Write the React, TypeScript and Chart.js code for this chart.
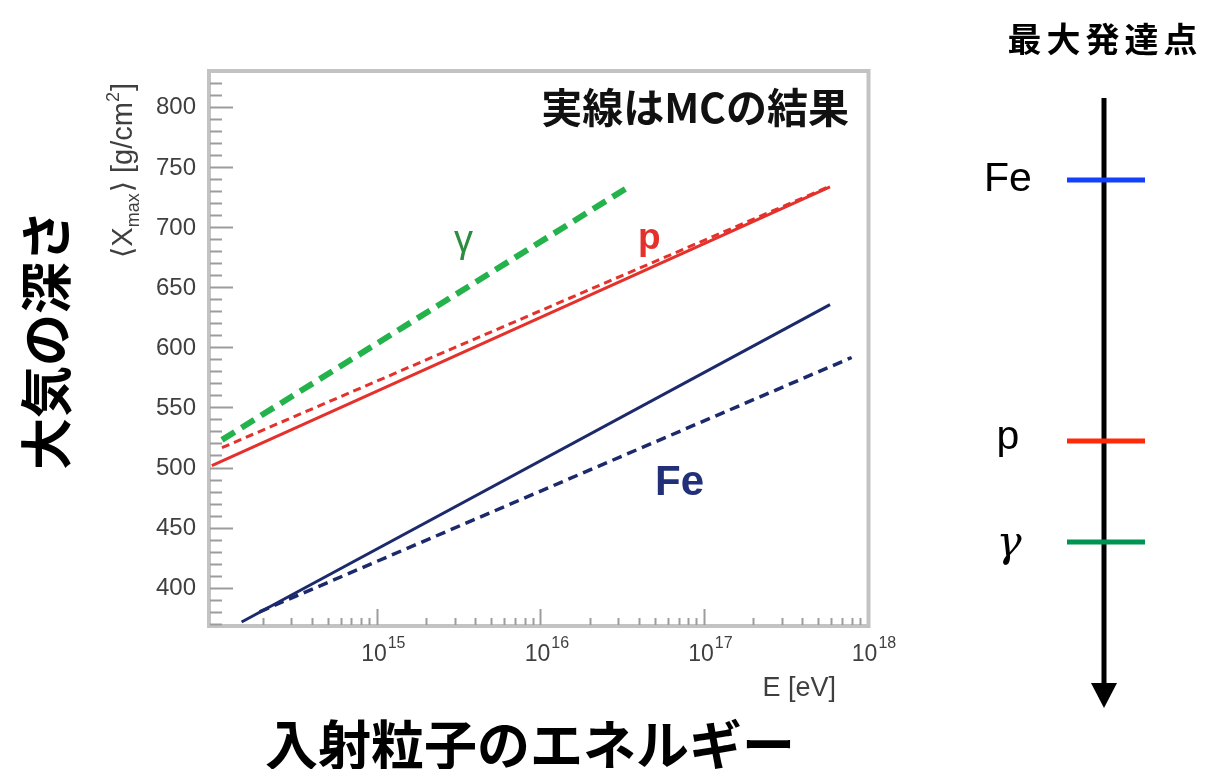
import { useEffect, useRef } from "react";
import { Chart, registerables } from "chart.js";

Chart.register(...registerables);

const CANVAS_W = 1206;
const CANVAS_H = 769;

// Axis ranges: primary energy (eV, log scale) and depth of shower maximum (g/cm²)
const energyMin = 9.55e13;
const energyMax = 1e18;
const depthMin = 369;
const depthMax = 829;

// Tick labels
const energyExponents = [15, 16, 17, 18];
const depthTickLabels = [400, 450, 500, 550, 600, 650, 700, 750, 800];

// Proton: MC result (solid) and model (dashed)
const protonMcEnergy = [9.8e13, 5.9e17];
const protonMcDepth = [501.5, 733.5];
const protonModelEnergy = [1.13e14, 5.9e17];
const protonModelDepth = [516.5, 734];

// Gamma: model (dashed)
const gammaModelEnergy = [1.13e14, 3.38e16];
const gammaModelDepth = [523, 732.5];

// Iron: MC result (solid) and model (dashed)
const ironMcEnergy = [1.49e14, 5.9e17];
const ironMcDepth = [371.5, 635.5];
const ironModelEnergy = [1.92e14, 8.0e17];
const ironModelDepth = [380, 591.5];

// Labels of the shower-maximum ladder on the right
const ladderLabels = ["Fe", "p", "γ"];

const RED = "#e5312b";
const GREEN = "#23b24c";
const NAVY = "#1c2a6c";

const points = (xs: number[], ys: number[]) => xs.map((x, i) => ({ x, y: ys[i] }));

const AXIS_FONT = '"Liberation Sans", Arial, "DejaVu Sans", sans-serif';
const JP_FONT = '"Noto Sans CJK JP", "Noto Sans", sans-serif';

const decorations = {
  id: "decorations",
  afterDatasetsDraw(chart: any) {
    const { ctx, chartArea: a, scales } = chart;
    const xs = scales.x;
    const ys = scales.y;
    ctx.save();

    // frame
    ctx.strokeStyle = "#c3c3c3";
    ctx.lineWidth = 4;
    ctx.strokeRect(a.left - 1, a.top - 1, a.right - a.left + 2, a.bottom - a.top + 2);

    // x ticks (inward, decade + minor)
    ctx.strokeStyle = "#9c9c9c";
    ctx.lineWidth = 2;
    for (let e = 13; e <= 17; e++) {
      for (let m = 1; m <= 9; m++) {
        const v = m * Math.pow(10, e);
        if (v < energyMin || v > energyMax * 1.0001) continue;
        const px = Math.round(xs.getPixelForValue(v)) + 0.5;
        if (px < a.left + 6 || px > a.right - 2) continue;
        const len = m === 1 ? 16 : 7;
        ctx.beginPath();
        ctx.moveTo(px, a.bottom);
        ctx.lineTo(px, a.bottom - len);
        ctx.stroke();
      }
    }
    // y ticks
    for (let d = 370; d <= depthMax; d += 10) {
      const py = Math.round(ys.getPixelForValue(d)) + 0.5;
      const len = d % 50 === 0 ? 23 : 12;
      ctx.beginPath();
      ctx.moveTo(a.left, py);
      ctx.lineTo(a.left + len, py);
      ctx.stroke();
    }

    // y tick labels
    ctx.fillStyle = "#3f3f3f";
    ctx.font = `24px ${AXIS_FONT}`;
    ctx.textAlign = "right";
    ctx.textBaseline = "middle";
    depthTickLabels.forEach((d) => {
      ctx.fillText(String(d), a.left - 14, ys.getPixelForValue(d) + 1);
    });

    // x tick labels 10^n
    ctx.textBaseline = "alphabetic";
    energyExponents.forEach((n) => {
      const px = xs.getPixelForValue(Math.pow(10, n));
      ctx.font = `23px ${AXIS_FONT}`;
      const baseW = ctx.measureText("10").width;
      ctx.font = `16px ${AXIS_FONT}`;
      const supW = ctx.measureText(String(n)).width;
      const start = px + 6 - (baseW + supW) / 2;
      ctx.textAlign = "left";
      ctx.font = `23px ${AXIS_FONT}`;
      ctx.fillText("10", start, a.bottom + 36);
      ctx.font = `16px ${AXIS_FONT}`;
      ctx.fillText(String(n), start + baseW + 1, a.bottom + 23);
    });

    // x axis title
    ctx.font = `27px ${AXIS_FONT}`;
    ctx.textAlign = "right";
    ctx.fillText("E [eV]", 836, 696);

    // y axis title (rotated): <X_max> [g/cm^2]
    ctx.save();
    ctx.translate(132, 258);
    ctx.rotate(-Math.PI / 2);
    ctx.textAlign = "left";
    const parts: [string, number, number][] = [
      ["⟨X", 29, 0],
      ["max", 18, 7],
      ["⟩ [g/cm", 29, 0],
      ["2", 18, -13],
      ["]", 29, 0],
    ];
    let cx = 0;
    parts.forEach(([t, size, dy]) => {
      ctx.font = `${size}px ${AXIS_FONT}`;
      ctx.fillText(t, cx, dy);
      cx += ctx.measureText(t).width + (size < 20 ? 1 : 0);
    });
    ctx.restore();

    // in-plot annotations
    ctx.fillStyle = "#111";
    ctx.font = `bold 41px ${JP_FONT}`;
    ctx.textAlign = "right";
    ctx.fillText("実線はMCの結果", 849, 123);

    ctx.textAlign = "left";
    ctx.fillStyle = "#2e8c3f";
    ctx.font = `38px ${AXIS_FONT}`;
    ctx.fillText("γ", 454, 252);
    ctx.fillStyle = RED;
    ctx.font = `bold 37px ${AXIS_FONT}`;
    ctx.fillText("p", 638, 249);
    ctx.fillStyle = "#22307a";
    ctx.font = `bold 42px ${AXIS_FONT}`;
    ctx.fillText("Fe", 655, 495);

    // big axis captions
    ctx.fillStyle = "#000";
    ctx.font = `bold 53px ${JP_FONT}`;
    ctx.textAlign = "center";
    ctx.fillText("入射粒子のエネルギー", 530, 765);
    ctx.save();
    ctx.translate(66, 340);
    ctx.rotate(-Math.PI / 2);
    ctx.font = `bold 52px ${JP_FONT}`;
    ctx.fillText("大気の深さ", 0, 0);
    ctx.restore();

    // ladder of shower-maximum depths
    ctx.font = `bold 34px ${JP_FONT}`;
    ctx.textAlign = "center";
    (ctx as any).letterSpacing = "5px";
    ctx.fillText("最大発達点", 1105, 52);
    (ctx as any).letterSpacing = "0px";

    const axisX = 1104;
    ctx.strokeStyle = "#000";
    ctx.lineWidth = 5;
    ctx.beginPath();
    ctx.moveTo(axisX, 98);
    ctx.lineTo(axisX, 686);
    ctx.stroke();
    ctx.fillStyle = "#000";
    ctx.beginPath();
    ctx.moveTo(axisX - 13, 683);
    ctx.lineTo(axisX + 13, 683);
    ctx.lineTo(axisX, 708);
    ctx.closePath();
    ctx.fill();

    const rungY = [180, 441, 542];
    const rungColor = ["#1141ff", "#ff2a0a", "#009452"];
    rungY.forEach((py, i) => {
      ctx.strokeStyle = rungColor[i];
      ctx.lineWidth = 5;
      ctx.beginPath();
      ctx.moveTo(1067, py);
      ctx.lineTo(1145, py);
      ctx.stroke();
    });
    ctx.fillStyle = "#000";
    ctx.textBaseline = "middle";
    ctx.font = `41px ${AXIS_FONT}`;
    ctx.fillText(ladderLabels[0], 1008, 180);
    ctx.fillText(ladderLabels[1], 1008, 438);
    ctx.font = `italic 42px "DejaVu Serif", serif`;
    ctx.fillText(ladderLabels[2], 1009, 545);

    ctx.restore();
  },
};

export default function App() {
  const canvasRef = useRef<HTMLCanvasElement>(null);

  useEffect(() => {
    const canvas = canvasRef.current;
    if (!canvas) return;
    const chart = new Chart(canvas, {
      type: "line",
      data: {
        datasets: [
          {
            data: points(ironMcEnergy, ironMcDepth),
            borderColor: NAVY,
            borderWidth: 3,
          },
          {
            data: points(ironModelEnergy, ironModelDepth),
            borderColor: NAVY,
            borderWidth: 3.5,
            borderDash: [10, 6],
          },
          {
            data: points(protonMcEnergy, protonMcDepth),
            borderColor: RED,
            borderWidth: 3,
          },
          {
            data: points(protonModelEnergy, protonModelDepth),
            borderColor: RED,
            borderWidth: 3,
            borderDash: [8, 5],
          },
          {
            data: points(gammaModelEnergy, gammaModelDepth),
            borderColor: GREEN,
            borderWidth: 6,
            borderDash: [15, 8],
          },
        ],
      },
      options: {
        responsive: false,
        animation: false,
        events: [],
        layout: { padding: { left: 210, right: CANVAS_W - 867.5, top: 72, bottom: CANVAS_H - 625 } },
        elements: { point: { radius: 0 }, line: { tension: 0, borderCapStyle: "butt" } },
        scales: {
          x: { type: "logarithmic", min: energyMin, max: energyMax, display: false },
          y: { type: "linear", min: depthMin, max: depthMax, display: false },
        },
        plugins: { legend: { display: false }, tooltip: { enabled: false } },
      },
      plugins: [decorations],
    });
    return () => chart.destroy();
  }, []);

  return (
    <div style={{ position: "absolute", left: 0, top: 0, width: CANVAS_W, height: CANVAS_H, background: "#fff" }}>
      <canvas ref={canvasRef} width={CANVAS_W} height={CANVAS_H} style={{ display: "block", width: CANVAS_W, height: CANVAS_H }} />
    </div>
  );
}
